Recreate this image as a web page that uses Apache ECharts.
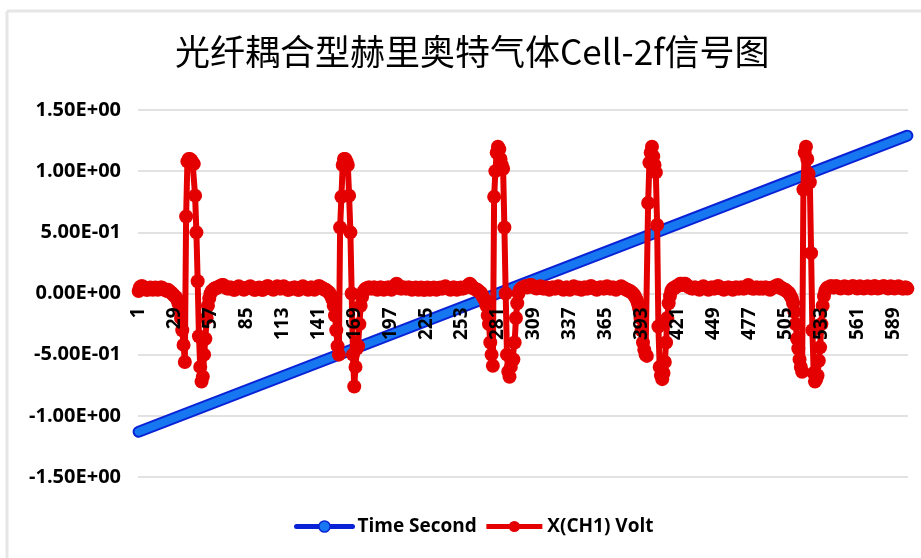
<!DOCTYPE html>
<html>
<head>
<meta charset="utf-8">
<script src="https://cdn.jsdelivr.net/npm/echarts@6/dist/echarts.min.js"></script>
<style>
  html, body { margin: 0; padding: 0; background: #fff; }
  #chart { width: 921px; height: 558px; }
</style>
</head>
<body>
<div id="chart"></div>
<script>
// Sample count on the category axis (samples 1..600)
const sampleCount = 600;

// Time Second: straight ramp, first and last sample
const timeEnds = [[0, -1.13], [599, 1.29]];

// X(CH1) Volt, one array per 120-sample modulation cycle
const cycle1 = [
  0.02, 0.05, 0.06, 0.06, 0.05, 0.04, 0.03, 0.03, 0.04, 0.05,
  0.04, 0.03, 0.04, 0.05, 0.04, 0.03, 0.04, 0.05, 0.05, 0.04,
  0.03, 0.03, 0.02, 0.03, 0.02, 0.01, 0.00, -0.01, -0.02, -0.03,
  -0.05, -0.08, -0.12, -0.20, -0.30, -0.42, -0.56, 0.63, 1.08, 1.10,
  1.10, 1.09, 1.07, 1.06, 0.80, 0.50, 0.10, -0.35, -0.60, -0.72,
  -0.68, -0.50, -0.37, -0.20, -0.10, -0.04, 0.00, 0.02, 0.03, 0.04,
  0.04, 0.05, 0.05, 0.06, 0.06, 0.07, 0.07, 0.06, 0.05, 0.04,
  0.04, 0.05, 0.05, 0.04, 0.03, 0.03, 0.04, 0.05, 0.06, 0.05,
  0.04, 0.04, 0.03, 0.04, 0.04, 0.05, 0.05, 0.06, 0.05, 0.04,
  0.03, 0.03, 0.04, 0.04, 0.05, 0.04, 0.03, 0.03, 0.04, 0.05,
  0.06, 0.06, 0.05, 0.04, 0.04, 0.03, 0.04, 0.05, 0.06, 0.05,
  0.04, 0.04, 0.05, 0.06, 0.05, 0.04, 0.03, 0.03, 0.04, 0.04
];
const cycle2 = [
  0.04, 0.05, 0.05, 0.04, 0.03, 0.03, 0.04, 0.05, 0.06, 0.05,
  0.04, 0.04, 0.03, 0.04, 0.05, 0.05, 0.04, 0.03, 0.04, 0.05,
  0.06, 0.06, 0.05, 0.04, 0.04, 0.03, 0.03, 0.02, 0.01, 0.00,
  -0.02, -0.05, -0.10, -0.18, -0.30, -0.43, -0.50, 0.54, 0.79, 1.05,
  1.10, 1.10, 1.08, 1.05, 0.80, 0.50, 0.00, -0.50, -0.76, -0.60,
  -0.45, -0.43, -0.25, -0.10, -0.03, 0.01, 0.03, 0.04, 0.04, 0.05,
  0.05, 0.04, 0.04, 0.05, 0.05, 0.04, 0.03, 0.04, 0.05, 0.05,
  0.04, 0.03, 0.04, 0.04, 0.05, 0.05, 0.04, 0.03, 0.04, 0.05,
  0.07, 0.08, 0.07, 0.05, 0.04, 0.04, 0.05, 0.05, 0.04, 0.04,
  0.05, 0.05, 0.04, 0.03, 0.04, 0.04, 0.05, 0.04, 0.03, 0.04,
  0.05, 0.04, 0.03, 0.03, 0.04, 0.05, 0.04, 0.03, 0.04, 0.04,
  0.05, 0.04, 0.03, 0.04, 0.04, 0.05, 0.04, 0.04, 0.05, 0.06
];
const cycle3 = [
  0.05, 0.04, 0.04, 0.03, 0.04, 0.05, 0.05, 0.04, 0.03, 0.04,
  0.04, 0.05, 0.04, 0.04, 0.05, 0.05, 0.06, 0.07, 0.08, 0.07,
  0.05, 0.04, 0.04, 0.03, 0.03, 0.02, 0.01, 0.00, -0.02, -0.04,
  -0.06, -0.10, -0.18, -0.25, -0.40, -0.50, -0.59, 0.79, 1.00, 1.15,
  1.20, 1.18, 1.10, 1.05, 1.02, 0.54, 0.00, -0.50, -0.64, -0.68,
  -0.60, -0.55, -0.54, -0.40, -0.20, -0.08, 0.00, 0.03, 0.04, 0.05,
  0.05, 0.06, 0.06, 0.05, 0.06, 0.07, 0.07, 0.06, 0.05, 0.05,
  0.04, 0.05, 0.05, 0.06, 0.05, 0.04, 0.04, 0.05, 0.05, 0.04,
  0.03, 0.04, 0.05, 0.05, 0.04, 0.04, 0.05, 0.06, 0.05, 0.04,
  0.04, 0.03, 0.04, 0.05, 0.05, 0.04, 0.03, 0.04, 0.05, 0.06,
  0.05, 0.04, 0.04, 0.05, 0.04, 0.03, 0.04, 0.05, 0.05, 0.04,
  0.04, 0.05, 0.06, 0.06, 0.05, 0.04, 0.04, 0.03, 0.04, 0.05
];
const cycle4 = [
  0.05, 0.05, 0.04, 0.04, 0.05, 0.06, 0.05, 0.04, 0.04, 0.05,
  0.05, 0.04, 0.03, 0.04, 0.05, 0.05, 0.06, 0.05, 0.04, 0.04,
  0.03, 0.03, 0.02, 0.02, 0.01, 0.00, -0.01, -0.03, -0.05, -0.08,
  -0.12, -0.20, -0.30, -0.40, -0.46, -0.50, -0.51, 0.74, 1.07, 1.15,
  1.20, 1.12, 1.05, 0.99, 0.56, -0.27, -0.60, -0.67, -0.70, -0.65,
  -0.56, -0.40, -0.20, -0.08, -0.02, 0.02, 0.04, 0.04, 0.05, 0.06,
  0.06, 0.07, 0.08, 0.08, 0.07, 0.08, 0.08, 0.07, 0.06, 0.05,
  0.05, 0.04, 0.04, 0.05, 0.05, 0.04, 0.04, 0.03, 0.04, 0.05,
  0.06, 0.05, 0.04, 0.04, 0.03, 0.04, 0.05, 0.05, 0.04, 0.04,
  0.05, 0.06, 0.06, 0.05, 0.04, 0.04, 0.03, 0.04, 0.04, 0.05,
  0.05, 0.04, 0.04, 0.03, 0.04, 0.05, 0.05, 0.04, 0.04, 0.05,
  0.05, 0.04, 0.04, 0.05, 0.06, 0.07, 0.06, 0.05, 0.04, 0.04
];
const cycle5 = [
  0.04, 0.05, 0.05, 0.04, 0.04, 0.05, 0.04, 0.04, 0.05, 0.05,
  0.04, 0.04, 0.03, 0.04, 0.05, 0.05, 0.06, 0.06, 0.07, 0.06,
  0.05, 0.04, 0.04, 0.03, 0.03, 0.02, 0.01, 0.00, -0.02, -0.04,
  -0.08, -0.15, -0.25, -0.37, -0.45, -0.54, -0.60, -0.64, 0.85, 1.15,
  1.20, 1.10, 0.98, 0.91, 0.33, -0.30, -0.65, -0.72, -0.70, -0.67,
  -0.55, -0.44, -0.25, -0.10, -0.02, 0.02, 0.04, 0.05, 0.05, 0.06,
  0.06, 0.05, 0.05, 0.06, 0.06, 0.05, 0.05, 0.04, 0.05, 0.05,
  0.06, 0.05, 0.05, 0.04, 0.05, 0.05, 0.06, 0.06, 0.05, 0.05,
  0.04, 0.05, 0.06, 0.05, 0.05, 0.04, 0.05, 0.05, 0.06, 0.05,
  0.05, 0.04, 0.05, 0.06, 0.06, 0.05, 0.04, 0.05, 0.05, 0.05,
  0.06, 0.06, 0.05, 0.05, 0.04, 0.05, 0.06, 0.05, 0.05, 0.04,
  0.05, 0.05, 0.06, 0.05, 0.05, 0.04, 0.04, 0.05, 0.05, 0.04
];

// Category labels: sample numbers 1..600
const categories = [];
for (let i = 1; i <= sampleCount; i++) categories.push(String(i));

const voltValues = cycle1.concat(cycle2, cycle3, cycle4, cycle5);

// Excel-style scientific notation: 1.50E+00, -5.00E-01
function sci(v) {
  const s = Number(v).toExponential(2).toUpperCase();
  return s.replace(/E([+-])(\d)$/, 'E$10$2');
}

const chart = echarts.init(document.getElementById('chart'), null, { renderer: 'canvas' });

const blueEdge = '#0a22d6';
const blueFill = '#1677f0';
const red = '#e40000';
const labelFont = 'Open Sans';

// plot area
const gridTop = 110, gridBottom = 81;
const yMin = -1.5, yMax = 1.5;
const plotHeight = 558 - gridTop - gridBottom;
// lift the category axis from the plot bottom up to the zero line
const zeroLift = plotHeight * (0 - yMin) / (yMax - yMin);

chart.setOption({
  backgroundColor: '#ffffff',
  animation: false,
  title: {
    text: '光纤耦合型赫里奥特气体Cell-2f信号图',
    left: 170,
    top: 29,
    textStyle: {
      fontFamily: 'Noto Sans CJK SC',
      fontSize: 35,
      fontWeight: 'normal',
      color: '#000'
    }
  },
  graphic: [
    { type: 'line', shape: { x1: 7, y1: 11, x2: 921, y2: 11 }, style: { stroke: '#e6e6e6', lineWidth: 3 } },
    { type: 'line', shape: { x1: 7, y1: 11, x2: 7, y2: 558 }, style: { stroke: '#e6e6e6', lineWidth: 3 } }
  ],
  legend: {
    bottom: 17,
    left: 289,
    itemWidth: 56,
    itemHeight: 14,
    itemGap: 7,
    textStyle: { fontFamily: labelFont, fontSize: 19, fontWeight: 'bold', color: '#000' },
    data: [
      {
        name: 'Time Second',
        itemStyle: { color: blueFill, borderColor: blueEdge, borderWidth: 1.5 },
        lineStyle: { color: blueEdge, width: 5 }
      },
      {
        name: 'X(CH1) Volt',
        itemStyle: { color: red },
        lineStyle: { color: red, width: 5 }
      }
    ]
  },
  grid: { left: 138, right: 13, top: gridTop, bottom: gridBottom, containLabel: false },
  xAxis: {
    type: 'category',
    data: categories,
    boundaryGap: true,
    offset: -zeroLift,
    z: 10,
    axisLine: { show: false, onZero: false },
    axisTick: { show: false },
    axisLabel: {
      interval: 27,
      rotate: 90,
      margin: 14,
      fontFamily: labelFont,
      fontSize: 19,
      fontWeight: 'bold',
      color: '#000'
    },
    splitLine: { show: false }
  },
  yAxis: {
    type: 'value',
    min: yMin,
    max: yMax,
    interval: 0.5,
    axisLine: { show: false },
    axisTick: { show: false },
    axisLabel: {
      formatter: sci,
      margin: 17,
      fontFamily: labelFont,
      fontSize: 20,
      fontWeight: 'bold',
      color: '#000'
    },
    splitLine: { lineStyle: { color: '#d9d9d9', width: 1.5 } }
  },
  series: [
    {
      // dark outline under the time ramp
      name: 'Time Second outline',
      type: 'line',
      data: timeEnds,
      showSymbol: false,
      silent: true,
      lineStyle: { color: blueEdge, width: 12, cap: 'round' },
      z: 2
    },
    {
      name: 'Time Second',
      type: 'line',
      data: timeEnds,
      symbol: 'circle',
      symbolSize: 14,
      showSymbol: false,
      itemStyle: { color: blueFill, borderColor: blueEdge, borderWidth: 1.5 },
      lineStyle: { color: blueFill, width: 8, cap: 'round' },
      z: 3
    },
    {
      name: 'X(CH1) Volt',
      type: 'line',
      data: voltValues,
      symbol: 'circle',
      symbolSize: 14,
      showSymbol: true,
      showAllSymbol: true,
      itemStyle: { color: red },
      lineStyle: { color: red, width: 6 },
      z: 4
    }
  ]
});
</script>
</body>
</html>
